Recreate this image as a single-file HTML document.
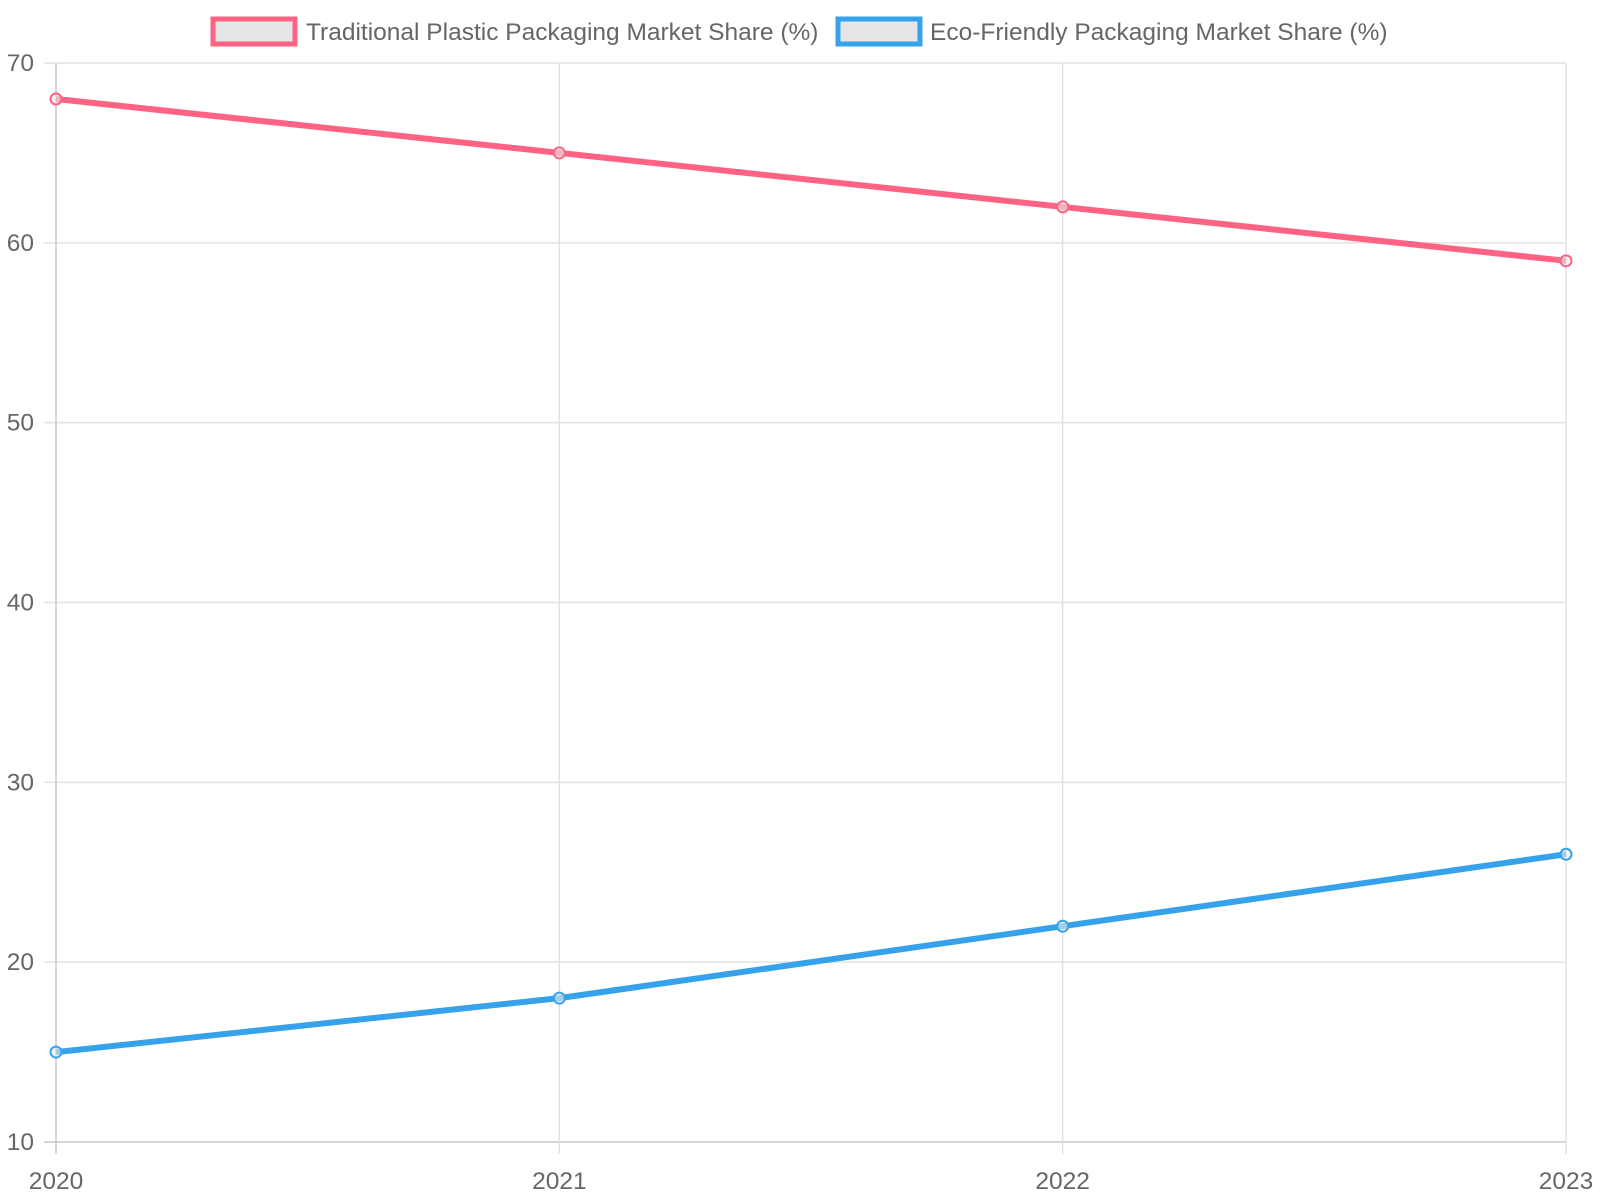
<!DOCTYPE html>
<html><head><meta charset="utf-8"><style>
html,body{margin:0;padding:0;background:#fff;width:1600px;height:1200px;overflow:hidden}
svg{display:block;font-family:"Liberation Sans",sans-serif}
</style></head><body>
<svg id="chart" width="1600" height="1200" xmlns="http://www.w3.org/2000/svg">
<g id="legend">
 <g>
  <rect x="213" y="19" width="82" height="25" fill="#e6e6e6" stroke="#ff6384" stroke-width="5"/>
  <text x="306" y="40" font-size="24.5" fill="#666">Traditional Plastic Packaging Market Share (%)</text>
 </g>
 <g>
  <rect x="838" y="19" width="82" height="25" fill="#e6e6e6" stroke="#36a2eb" stroke-width="5"/>
  <text x="930" y="40" font-size="24.5" fill="#666">Eco-Friendly Packaging Market Share (%)</text>
 </g>
</g>
<g id="grid"></g><g id="ticks"></g><g id="series"></g>
</svg>
<script>
const categories=["2020","2021","2022","2023"];
const traditional=[68,65,62,59];
const eco=[15,18,22,26];
const yTicks=[10,20,30,40,50,60,70];
const NS="http://www.w3.org/2000/svg";
const L=56,R=1566,T=63,B=1142,yMin=10,yMax=70;
const x=i=>L+i*(R-L)/(categories.length-1);
const y=v=>B-(v-yMin)/(yMax-yMin)*(B-T);
function mk(tag,attrs,parent){const e=document.createElementNS(NS,tag);for(const k in attrs)e.setAttribute(k,attrs[k]);parent.appendChild(e);return e;}
const grid=document.getElementById('grid'),ticks=document.getElementById('ticks'),series=document.getElementById('series');
yTicks.forEach(v=>{
 const ln=mk('line',{x1:44,x2:R,y1:y(v),y2:y(v),stroke:v===yMin?'#c8c8c8':'#e2e2e2','stroke-width':1.5},grid);
 
 
 const t=mk('text',{x:34,y:y(v)+8,'text-anchor':'end','font-size':24.5,fill:'#666'},ticks);
 t.textContent=v;
 
 
});
categories.forEach((c,i)=>{
 const ln=mk('line',{x1:x(i),x2:x(i),y1:T,y2:B+12,stroke:i===0?'#c8c8c8':'#e2e2e2','stroke-width':1.5},grid);
 
 
 const t=mk('text',{x:x(i),y:1189,'text-anchor':'middle','font-size':24.5,fill:'#666'},ticks);
 t.textContent=c;
 
 
});
function draw(vals,color,name){
 const p=mk('polyline',{points:vals.map((v,i)=>x(i)+','+y(v)).join(' '),fill:'none',stroke:color,'stroke-width':6,'stroke-linejoin':'round'},series);
 
 
 vals.forEach((v,i)=>{
  const c=mk('circle',{cx:x(i),cy:y(v),r:5.5,fill:'rgba(235,235,235,0.6)',stroke:color,'stroke-width':2},series);
  
  
 });
}
draw(traditional,'#ff6384','traditional');
draw(eco,'#36a2eb','eco');
</script>
</body></html>
